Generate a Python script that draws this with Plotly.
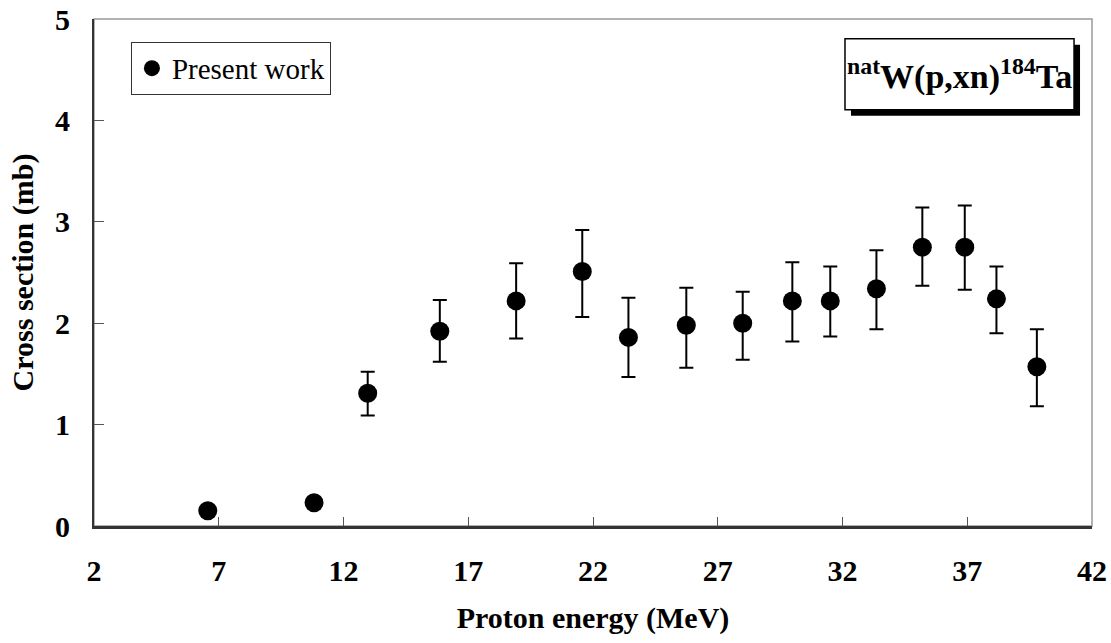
import plotly.graph_objects as go

# Data
energy = [6.56, 10.82, 12.97, 15.86, 18.92, 21.57, 23.42, 25.74, 28.0, 29.99, 31.51, 33.36, 35.2, 36.9, 38.17, 39.79]
xsec = [0.15, 0.23, 1.31, 1.92, 2.22, 2.51, 1.86, 1.98, 2.00, 2.22, 2.22, 2.34, 2.75, 2.75, 2.24, 1.57]
err_up = [0.0, 0.0, 0.21, 0.31, 0.37, 0.41, 0.39, 0.37, 0.31, 0.38, 0.34, 0.38, 0.39, 0.41, 0.32, 0.37]
err_down = [0.0, 0.0, 0.22, 0.30, 0.37, 0.45, 0.39, 0.42, 0.36, 0.40, 0.35, 0.40, 0.38, 0.42, 0.34, 0.39]

x_ticks = [2, 7, 12, 17, 22, 27, 32, 37, 42]
y_ticks = [0, 1, 2, 3, 4, 5]

FONT = "Liberation Serif"

fig = go.Figure()
fig.add_trace(go.Scatter(
    x=energy, y=xsec, mode="markers", name="Present work",
    marker=dict(color="black", size=19, line=dict(width=0)),
    error_y=dict(type="data", symmetric=False, array=err_up, arrayminus=err_down,
                 color="black", thickness=2, width=7),
))

# plot frame (gray top/right)
fig.add_shape(type="rect", xref="paper", yref="paper", x0=0, x1=1, y0=0, y1=1,
              line=dict(color="#999999", width=1.5), layer="below")

# reaction label box with shadow
bx0, bx1, by0, by1 = 0.7525, 0.982, 0.821, 0.961
fig.add_shape(type="rect", xref="paper", yref="paper",
              x0=bx0 + 0.006, x1=bx1 + 0.006, y0=by0 - 0.012, y1=by1 - 0.012,
              fillcolor="black", line=dict(color="black", width=0), layer="above")
fig.add_shape(type="rect", xref="paper", yref="paper",
              x0=bx0, x1=bx1, y0=by0, y1=by1,
              fillcolor="white", line=dict(color="black", width=1.5), layer="above")
fig.add_annotation(xref="paper", yref="paper", x=(bx0 + bx1) / 2, y=(by0 + by1) / 2,
                   text="<b><sup>nat</sup>W(p,xn)<sup>184</sup>Ta</b>", showarrow=False,
                   font=dict(family=FONT, size=34, color="black"),
                   xanchor="center", yanchor="middle")

fig.update_layout(
    template="none",
    width=1111, height=643,
    margin=dict(l=94, r=19, t=19, b=117, autoexpand=False),
    paper_bgcolor="white", plot_bgcolor="white",
    font=dict(family=FONT, color="black"),
    showlegend=True,
    legend=dict(x=0.037, y=0.955, xanchor="left", yanchor="top",
                bgcolor="white", bordercolor="#333333", borderwidth=1,
                font=dict(family=FONT, size=29, color="black"),
                itemsizing="trace", tracegroupgap=0, itemwidth=30),
    xaxis=dict(range=[2, 42], tickmode="array", tickvals=x_ticks,
               ticktext=["<b>%d</b>" % v for v in x_ticks],
               automargin=False,
               showgrid=False, zeroline=False,
               showline=True, linecolor="#333333", linewidth=2.5,
               ticks="inside", ticklen=9, tickcolor="#555555", tickwidth=1,
               tickfont=dict(family=FONT, size=30, color="black"),
               ticklabelstandoff=16,
               title=dict(text="<b>Proton energy (MeV)</b>", standoff=22,
                          font=dict(family=FONT, size=30, color="black"))),
    yaxis=dict(range=[0, 5], tickmode="array", tickvals=y_ticks,
               ticktext=["<b>%d</b>" % v for v in y_ticks],
               automargin=False,
               showgrid=False, zeroline=False,
               showline=True, linecolor="#333333", linewidth=2,
               ticks="inside", ticklen=10, tickcolor="#555555", tickwidth=1,
               tickfont=dict(family=FONT, size=30, color="black"),
               ticklabelstandoff=16,
               title=dict(text="<b>Cross section (mb)</b>", standoff=13,
                          font=dict(family=FONT, size=30, color="black"))),
)

fig.write_html("out.html")
